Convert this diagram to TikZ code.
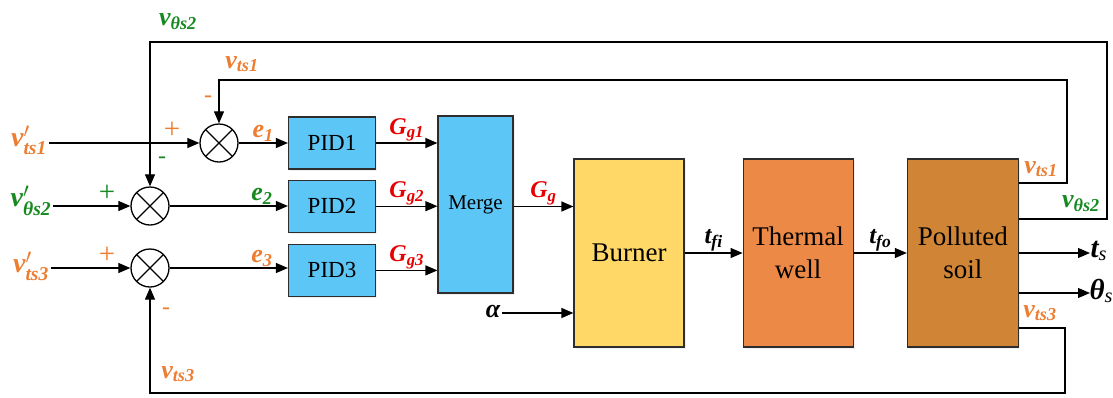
\documentclass[tikz,border=0pt]{standalone}
\usepackage{fontspec}
\setmainfont{Liberation Serif}
\usepackage{amsmath}
\usepackage{tikz}
\usetikzlibrary{positioning}
\usetikzlibrary{arrows.meta}
\usetikzlibrary{shadows}
\usetikzlibrary{calc}
\definecolor{sigorange}{RGB}{237,125,49}
\definecolor{siggreen}{RGB}{22,138,32}
\definecolor{sigred}{RGB}{232,0,0}
\definecolor{pidblue}{RGB}{92,198,247}
\definecolor{burnyellow}{RGB}{255,216,104}
\definecolor{wellorange}{RGB}{236,137,70}
\definecolor{soilbrown}{RGB}{208,133,54}
\definecolor{edgegray}{RGB}{45,45,45}
\newcommand{\bi}[1]{\text{\bfseries\itshape #1}}
\newcommand{\fsz}[1]{\fontsize{#1}{#1}\selectfont}
\tikzset{blk/.style={rectangle,draw=edgegray,line width=1.2pt,text centered,align=center,
    drop shadow={opacity=0.12,shadow xshift=1.5pt,shadow yshift=-1.5pt}}}
\tikzset{sumnode/.style={circle,draw,line width=1.3pt,minimum size=38pt,inner sep=0pt,
    path picture={\draw[line width=1.3pt] (path picture bounding box.north west) -- (path picture bounding box.south east)
      (path picture bounding box.north east) -- (path picture bounding box.south west);}}}

\begin{document}
\begin{tikzpicture}[x=1pt,y=-1pt,>={Triangle[length=12pt,width=10pt]},line width=1.2pt,
    sig/.style={inner sep=1pt,font=\fsz{26}},
    sgn/.style={inner sep=0pt,font=\fsz{24}}]
  \useasboundingbox (0,0) rectangle (1113,397);
  % summing junctions
  \node[sumnode] (sum1) at (219,143) {};
  \node[sumnode] (sum2) at (150,206) {};
  \node[sumnode] (sum3) at (150,268) {};
  % controllers and plant
  \node[blk,fill=pidblue,minimum width=87pt,minimum height=52pt,font=\fsz{23}] (pid1) at (332,143) {PID1};
  \node[blk,fill=pidblue,minimum width=87pt,minimum height=52pt,font=\fsz{23},below=10pt of pid1] (pid2) {PID2};
  \node[blk,fill=pidblue,minimum width=87pt,minimum height=52pt,font=\fsz{23},below=11pt of pid2] (pid3) {PID3};
  \node[blk,fill=pidblue,minimum width=75pt,minimum height=177pt,font=\fsz{21}] (merge) at (475.5,204.5) {Merge};
  \node[blk,fill=burnyellow,minimum width=110pt,minimum height=188pt,font=\fsz{27}] (burner) at (629,253) {Burner};
  \node[blk,fill=wellorange,minimum width=110pt,minimum height=188pt,font=\fontsize{27}{33}\selectfont,right=58pt of burner] (well) {Thermal\\well};
  \node[blk,fill=soilbrown,minimum width=111pt,minimum height=188pt,font=\fontsize{27}{33}\selectfont,right=53pt of well] (soil) {Polluted\\soil};
  % set points
  \node[sig,font=\fsz{28},text=sigorange] (ref1) at (29,140) {$\bi{v}'_{\bi{ts1}}$};
  \node[sig,font=\fsz{28},text=siggreen] (ref2) at (31,201) {$\bi{v}'_{\bi{θs2}}$};
  \node[sig,font=\fsz{28},text=sigorange] (ref3) at (31,266) {$\bi{v}'_{\bi{ts3}}$};
  \draw[->] (sum1 -| ref1.east) -- (sum1.west);
  \draw[->] (sum2 -| ref2.east) -- (sum2.west);
  \draw[->] (sum3 -| ref3.east) -- (sum3.west);
  % signs
  \node[sgn,font=\fsz{29},text=sigorange] (p1) at (172,130) {+};
  \node[sgn,text=sigorange] (m1) at (208,99) {-};
  \node[sgn,text=siggreen] (m2) at (162,160) {-};
  \node[sgn,font=\fsz{29},text=siggreen] (p2) at (107,193) {+};
  \node[sgn,font=\fsz{29},text=sigorange] (p3) at (107,255) {+};
  \node[sgn,text=sigorange] (m3) at (166,311) {-};
  % errors
  \draw[->] (sum1.east) -- node[sig,above,font=\fsz{26},text=sigorange] {$\bi{e}_{\bi{1}}$} (sum1.east -| pid1.west);
  \draw[->] (sum2.east) -- node[sig,pos=0.78,above,font=\fsz{26},text=siggreen] {$\bi{e}_{\bi{2}}$} (sum2.east -| pid2.west);
  \draw[->] (sum3.east) -- node[sig,pos=0.78,above,font=\fsz{26},text=sigorange] {$\bi{e}_{\bi{3}}$} (sum3.east -| pid3.west);
  % gas flows
  \draw[->] (pid1.east) -- node[sig,above,font=\fsz{24},text=sigred] {$\bi{G}_{\bi{g1}}$} (pid1.east -| merge.west);
  \draw[->] (pid2.east) -- node[sig,above,font=\fsz{24},text=sigred] {$\bi{G}_{\bi{g2}}$} (pid2.east -| merge.west);
  \draw[->] (pid3.east) -- node[sig,above,font=\fsz{24},text=sigred] {$\bi{G}_{\bi{g3}}$} (pid3.east -| merge.west);
  \draw[->] ([yshift=-2pt]merge.east) -- node[sig,above,font=\fsz{24},text=sigred] {$\bi{G}_{\bi{g}}$} ([yshift=-2pt]merge.east -| burner.west);
  \node[sig,font=\fsz{26}] (alpha) at (493,311) {$\bi{α}$};
  \draw[->] (alpha.east |- 0,313) -- (burner.west |- 0,313);
  \draw[->] (burner) -- node[sig,above,font=\fsz{25}] {$\bi{t}_{\bi{fi}}$} (well);
  \draw[->] (well) -- node[sig,above,font=\fsz{25}] {$\bi{t}_{\bi{fo}}$} (soil);
  % outputs
  \node[sig,font=\fsz{29},anchor=west,inner sep=0pt] (tout) at (1090,251) {$\bi{t}_{\textit{s}}$};
  \node[sig,font=\fsz{29},anchor=west,inner sep=0pt] (thout) at (1089,291) {$\bi{θ}_{\textit{s}}$};
  \draw[->] (soil.east) -- (soil.east -| tout.west);
  \draw[->] ([yshift=-40pt]soil.east) -- ([yshift=-40pt]soil.east -| tout.west);
  % feedback
  \coordinate (fb1) at (1067,80);
  \coordinate (fb2) at (1107,42);
  \coordinate (fb3) at (1065,393);
  \draw[->] ([yshift=70pt]soil.east) -| (fb1) -| (sum1.north);
  \draw[->] ([yshift=34pt]soil.east) -| (fb2) -| (sum2.north);
  \draw[->] ([yshift=-75pt]soil.east) -| (fb3) -| (sum3.south);
  \node[sig,text=sigorange] (lfb1) at (1041,169) {$\bi{v}_{\bi{ts1}}$};
  \node[sig,text=siggreen] (lfb2) at (1081,204) {$\bi{v}_{\bi{θs2}}$};
  \node[sig,text=sigorange] (lfb3) at (1040,313) {$\bi{v}_{\bi{ts3}}$};
  \node[sig,text=siggreen] (tfb2) at (178,22) {$\bi{v}_{\bi{θs2}}$};
  \node[sig,text=sigorange] (tfb1) at (242,64) {$\bi{v}_{\bi{ts1}}$};
  \node[sig,text=sigorange] (tfb3) at (178,374) {$\bi{v}_{\bi{ts3}}$};
\end{tikzpicture}
\end{document}
